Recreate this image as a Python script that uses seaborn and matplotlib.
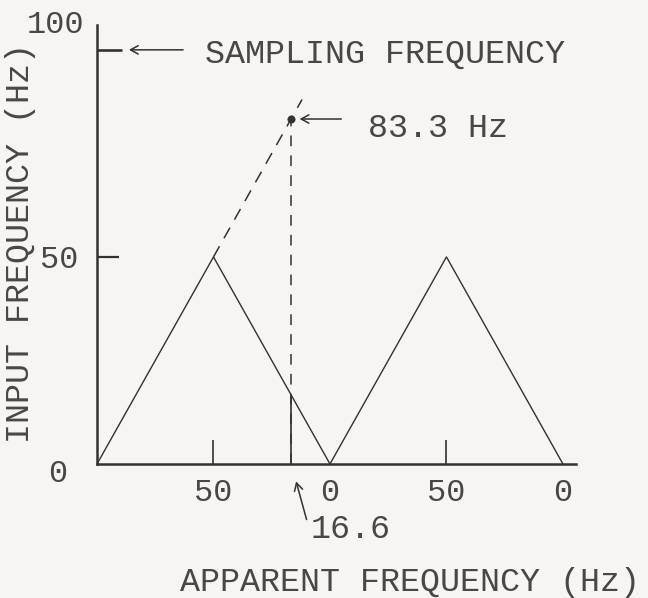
import matplotlib
matplotlib.use("Agg")
import matplotlib.pyplot as plt
import numpy as np
import pandas as pd
import seaborn as sns

# Folded-frequency (aliasing) diagram for a 100 Hz sampling rate
tri_pos = [0, 50, 100, 150, 200]          # position along the apparent-frequency axis
tri_height = [0, 50, 0, 50, 0]            # triangular folding pattern
ext_pos = [50, 88]                        # dashed continuation of the rising edge
ext_height = [50, 88]
sampling_freq = 100
input_freq = 83.3
apparent_freq = 16.6
alias_pos = 100 - apparent_freq           # where 16.6 Hz sits on the first descending edge

x_tick_pos = [50, 150]
x_tick_labels = ["50", "50"]
x_zero_pos = [100, 200]
x_zero_labels = ["0", "0"]

INK = "#35312d"
TEXT_INK = "#4a4641"
PAPER = "#f6f5f0"
FONT = "Liberation Mono"
FS = 24

sns.set_style("white")
plt.rcParams["font.family"] = [FONT, "DejaVu Sans"]
plt.rcParams["text.color"] = TEXT_INK
plt.rcParams["axes.edgecolor"] = INK
plt.rcParams["xtick.color"] = INK
plt.rcParams["ytick.color"] = INK
plt.rcParams["xtick.labelcolor"] = TEXT_INK
plt.rcParams["ytick.labelcolor"] = TEXT_INK

fig = plt.figure(figsize=(6.48, 5.98), dpi=100, facecolor=PAPER)
ax = fig.add_axes([97 / 648, 134 / 598, 479 / 648, 439 / 598], facecolor=PAPER)

tri = pd.DataFrame({"pos": tri_pos, "height": tri_height})
ext = pd.DataFrame({"pos": ext_pos, "height": ext_height})

sns.lineplot(data=tri, x="pos", y="height", ax=ax, color=INK, lw=1.0,
             estimator=None, sort=False)
sns.lineplot(data=ext, x="pos", y="height", ax=ax, color=INK, lw=1.1,
             estimator=None, sort=False, dashes=False, linestyle=(0, (8, 6)))

# vertical from the alias point: solid up to the folded edge, dashed to the input frequency
ax.vlines([alias_pos], [0], [input_freq], colors=INK, lw=1.1, linestyles=(0, (7, 6)))
ax.vlines([alias_pos], [0], [apparent_freq], colors=INK, lw=1.2)
sns.scatterplot(x=[alias_pos], y=[input_freq], ax=ax, color=INK, s=28,
                edgecolor=INK, zorder=5)

ax.set_xlim(0, 205.6)
ax.set_ylim(0, 106)
sns.despine(ax=ax)
for sp in ("left", "bottom"):
    ax.spines[sp].set_linewidth(1.8)

# x ticks: small inward marks at the peaks, zero labels at the folds
ax.set_xticks(x_tick_pos)
ax.set_xticklabels(x_tick_labels)
ax.set_xticks(x_zero_pos, minor=True)
ax.set_xticklabels(x_zero_labels, minor=True)
ax.tick_params(axis="x", which="major", bottom=True, direction="in", length=17,
               width=1.2, pad=10, labelsize=FS - 1)
ax.tick_params(axis="x", which="minor", bottom=True, direction="in", length=0,
               pad=10, labelsize=FS - 1)

# y ticks: 50 and the sampling frequency
ax.set_yticks([50])
ax.set_yticklabels(["50"])
ax.set_yticks([sampling_freq], minor=True)
ax.set_yticklabels([""], minor=True)
ax.tick_params(axis="y", which="major", left=True, direction="in", length=16,
               width=1.6, pad=13, labelsize=FS - 1)
ax.tick_params(axis="y", which="minor", left=True, direction="in", length=18,
               width=1.9)
ax.grid(False)

ax.annotate("0", xy=(0, 0), xytext=(-28, -7), textcoords="offset points",
            ha="center", va="center", fontsize=FS - 1)
ax.annotate("100", xy=(0, 106), xytext=(-30, 0), textcoords="offset points",
            ha="center", va="center", fontsize=FS - 1)

arrow = dict(arrowstyle="->,head_length=0.55,head_width=0.3", color=INK, lw=1.1,
             shrinkA=0, shrinkB=0)

# sampling frequency pointer
ax.annotate("", xy=(0, sampling_freq), xytext=(62, 0), textcoords="offset points",
            arrowprops=dict(arrow, shrinkB=23))
ax.annotate("SAMPLING FREQUENCY", xy=(0, sampling_freq), xytext=(78, -3),
            textcoords="offset points", ha="left", va="center", fontsize=FS)

# input frequency pointer
ax.annotate("", xy=(alias_pos, input_freq), xytext=(36, 0),
            textcoords="offset points",
            arrowprops=dict(arrow, shrinkB=6))
ax.annotate(f"{input_freq} Hz", xy=(alias_pos, input_freq), xytext=(55, -7),
            textcoords="offset points", ha="left", va="center", fontsize=FS)

# apparent frequency pointer
ax.annotate("", xy=(alias_pos, 0), xytext=(11, -40), textcoords="offset points",
            arrowprops=dict(arrow, shrinkB=13))
ax.annotate(f"{apparent_freq}", xy=(alias_pos, 0), xytext=(14, -47),
            textcoords="offset points", ha="left", va="center", fontsize=FS)

ax.set_xlabel("")
ax.set_ylabel("")
fig.text(410 / 648, 1 - 591 / 598, "APPARENT FREQUENCY (Hz)", ha="center",
         va="baseline", fontsize=FS)
fig.text(21 / 648, 1 - 243 / 598, "INPUT FREQUENCY (Hz)", ha="center",
         va="center", rotation=90, fontsize=FS)

fig.savefig("out.png", dpi=100, facecolor=PAPER)
